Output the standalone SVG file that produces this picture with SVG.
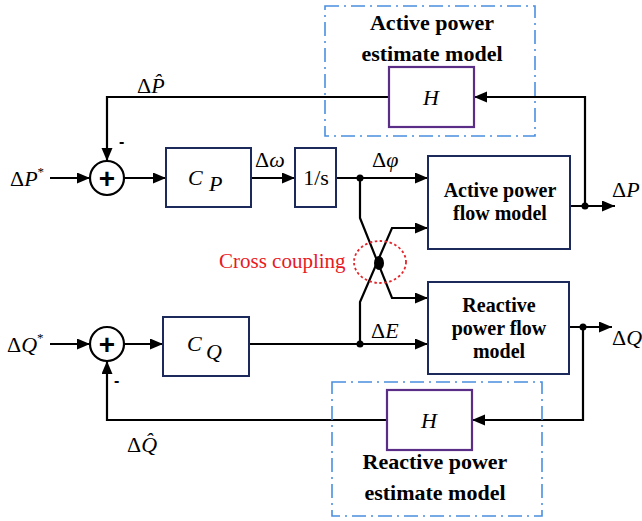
<svg xmlns="http://www.w3.org/2000/svg" width="642" height="521" viewBox="0 0 642 521">
<defs>
<style>
.blk{fill:#fff;stroke:#1b2a5a;stroke-width:2}
.hbox{fill:#fff;stroke:#5a2d86;stroke-width:2.2}
.dash{fill:none;stroke:#4a8fe0;stroke-width:1.6;stroke-dasharray:14,5,2,5}
.ln{fill:none;stroke:#000;stroke-width:2.2}
.arr{marker-end:url(#ah)}
.dot{fill:#000}
.bt{font-family:"Liberation Serif",serif;font-weight:bold;font-size:22px;fill:#000;text-anchor:middle}
.ft{font-family:"Liberation Serif",serif;font-weight:bold;font-size:20px;fill:#000;text-anchor:middle}
.mt{font-family:"Liberation Serif",serif;font-size:22px;fill:#000}
.it{font-style:italic}
.sum{fill:#fff;stroke:#000;stroke-width:2.2}
</style>
<marker id="ah" markerUnits="userSpaceOnUse" markerWidth="14" markerHeight="12" refX="13" refY="5.5" orient="auto">
<path d="M0,0 L13,5.5 L0,11 z" fill="#000"/>
</marker>
</defs>
<rect width="642" height="521" fill="#fff"/>

<g id="connectors">
<line class="ln arr" x1="50" y1="178" x2="90" y2="178"/>
<line class="ln arr" x1="124" y1="178" x2="166" y2="178"/>
<line class="ln arr" x1="251" y1="178" x2="295" y2="178"/>
<line class="ln arr" x1="336" y1="178" x2="428" y2="178"/>
<polyline class="ln arr" points="360,178 360,218 392,298 428,298"/>
<polyline class="ln arr" points="360,344 360,302 392,228 428,228"/>
<line class="ln arr" x1="249" y1="344" x2="428" y2="344"/>
<line class="ln arr" x1="570" y1="206" x2="615" y2="206"/>
<polyline class="ln arr" points="585,206 585,97 474,97"/>
<polyline class="ln arr" points="389,97 107,97 107,161"/>
<line class="ln arr" x1="50" y1="344" x2="90" y2="344"/>
<line class="ln arr" x1="124" y1="344" x2="163" y2="344"/>
<line class="ln arr" x1="569" y1="327" x2="612" y2="327"/>
<polyline class="ln arr" points="583,327 583,420 472,420"/>
<polyline class="ln arr" points="387,420 107,420 107,361"/>
<circle class="dot" cx="360" cy="178" r="3.5"/>
<circle class="dot" cx="360" cy="344" r="3.5"/>
<circle class="dot" cx="585" cy="206" r="3.5"/>
<circle class="dot" cx="583" cy="327" r="3.5"/>
</g>

<g id="active-estimate-group">
<rect class="dash" x="325" y="6" width="210" height="130"/>
<text class="bt" x="432" y="30">Active power</text>
<text class="bt" x="432" y="61">estimate model</text>
</g>
<g id="H-top">
<rect class="hbox" x="389" y="67" width="85" height="60"/>
<text class="mt it" x="431" y="105" text-anchor="middle" font-size="25">H</text>
</g>

<g id="reactive-estimate-group">
<rect class="dash" x="332" y="382" width="210" height="134"/>
<text class="bt" x="435" y="469">Reactive power</text>
<text class="bt" x="435" y="500">estimate model</text>
</g>
<g id="H-bottom">
<rect class="hbox" x="387" y="390" width="85" height="60"/>
<text class="mt it" x="429" y="428" text-anchor="middle" font-size="25">H</text>
</g>

<g id="sum-P">
<circle class="sum" cx="107" cy="178" r="17"/>
<text x="107" y="188" text-anchor="middle" font-family="Liberation Sans,sans-serif" font-weight="bold" font-size="28">+</text>
<text x="119" y="147" font-family="Liberation Sans,sans-serif" font-weight="bold" font-size="16">-</text>
</g>
<g id="sum-Q">
<circle class="sum" cx="107" cy="344" r="17"/>
<text x="107" y="354" text-anchor="middle" font-family="Liberation Sans,sans-serif" font-weight="bold" font-size="28">+</text>
<text x="114" y="386" font-family="Liberation Sans,sans-serif" font-weight="bold" font-size="16">-</text>
</g>

<g id="CP">
<rect class="blk" x="166" y="148" width="85" height="59"/>
<text class="mt it" x="188" y="185" font-size="27">C</text>
<text class="mt it" x="209" y="191" font-size="14">P</text>
</g>
<g id="integrator">
<rect class="blk" x="295" y="148" width="41" height="59"/>
<text class="mt" x="316" y="185" text-anchor="middle" font-size="22">1/s</text>
</g>
<g id="CQ">
<rect class="blk" x="163" y="317" width="86" height="59"/>
<text class="mt it" x="187" y="351" font-size="27">C</text>
<text class="mt it" x="206" y="359" font-size="14">Q</text>
</g>

<g id="active-flow">
<rect class="blk" x="428" y="156" width="142" height="93"/>
<text class="ft" x="500" y="197">Active power</text>
<text class="ft" x="500" y="220">flow model</text>
</g>
<g id="reactive-flow">
<rect class="blk" x="428" y="282" width="141" height="92"/>
<text class="ft" x="499" y="312">Reactive</text>
<text class="ft" x="499" y="335">power flow</text>
<text class="ft" x="499" y="358">model</text>
</g>

<g id="cross-coupling">
<ellipse cx="380" cy="262" rx="26" ry="21" fill="none" stroke="#e3262b" stroke-width="1.8" stroke-dasharray="2.5,2.5"/>
<ellipse cx="379" cy="263" rx="5" ry="7" fill="#000"/>
<text x="219" y="268" font-family="Liberation Serif,serif" font-size="21" fill="#e8191f">Cross coupling</text>
</g>

<g id="labels">
<text class="mt" x="10" y="186">Δ<tspan class="it">P</tspan><tspan font-size="13" dy="-10">*</tspan></text>
<text class="mt" x="7" y="352">Δ<tspan class="it">Q</tspan><tspan font-size="13" dy="-10">*</tspan></text>
<text class="mt" x="137" y="93">Δ<tspan class="it">P̂</tspan></text>
<text class="mt" x="127" y="452">Δ<tspan class="it">Q̂</tspan></text>
<text class="mt" x="255" y="167">Δ<tspan class="it">ω</tspan></text>
<text class="mt" x="372" y="167">Δ<tspan class="it">φ</tspan></text>
<text class="mt" x="371" y="338">Δ<tspan class="it">E</tspan></text>
<text class="mt" x="612" y="197">Δ<tspan class="it">P</tspan></text>
<text class="mt" x="612" y="345">Δ<tspan class="it">Q</tspan></text>
</g>
</svg>
